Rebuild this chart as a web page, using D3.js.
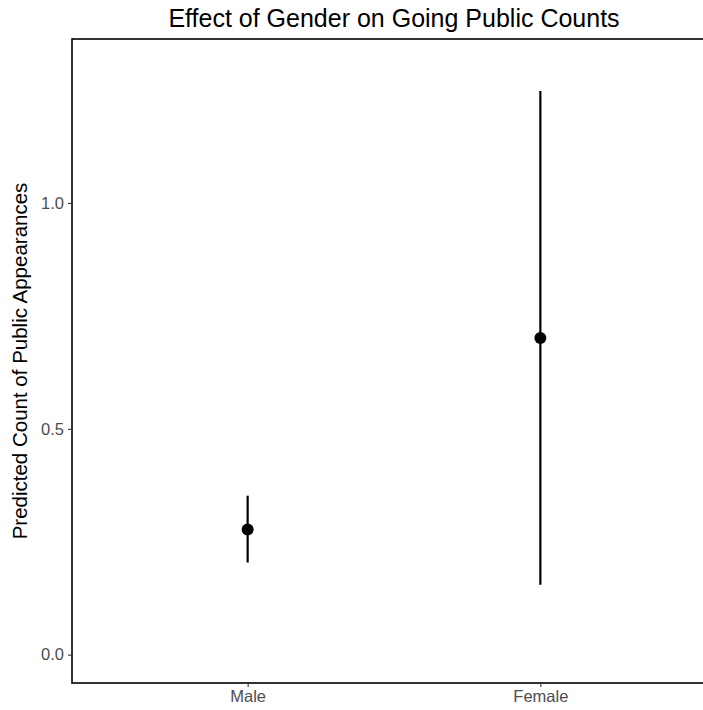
<!DOCTYPE html>
<html>
<head>
<meta charset="utf-8">
<script src="https://cdn.jsdelivr.net/npm/d3@7"></script>
<style>
  body { margin: 0; background: #fff; }
  svg { display: block; font-family: "Liberation Sans", Arial, sans-serif; }
</style>
</head>
<body>
<div id="chart"></div>
<script>
// Data
const genders = ["Male", "Female"];
const predicted = [0.277, 0.701];
const lower = [0.204, 0.155];
const upper = [0.352, 1.248];
const yTicks = [0.0, 0.5, 1.0];

const TITLE = "Effect of Gender on Going Public Counts";
const Y_LABEL = "Predicted Count of Public Appearances";

const width = 703;
const height = 710;
const panel = { left: 72, right: 716, top: 39, bottom: 683 };

const svg = d3.select("#chart")
    .append("svg")
    .attr("width", width)
    .attr("height", height);

const x = d3.scalePoint()
    .domain(genders)
    .range([panel.left, panel.right])
    .padding(0.6);

const y = d3.scaleLinear()
    .domain([-0.0627, 1.363])
    .range([panel.bottom, panel.top]);

// Panel border (right edge falls outside the picture)
svg.append("rect")
    .attr("x", panel.left)
    .attr("y", panel.top)
    .attr("width", panel.right - panel.left)
    .attr("height", panel.bottom - panel.top)
    .attr("fill", "none")
    .attr("stroke", "#000")
    .attr("stroke-width", 1.6);

// Axes
const yAxis = svg.append("g")
    .attr("transform", `translate(${panel.left},0)`)
    .call(d3.axisLeft(y).tickValues(yTicks).tickFormat(d3.format(".1f")).tickSize(4).tickPadding(4));

const xAxis = svg.append("g")
    .attr("transform", `translate(0,${panel.bottom})`)
    .call(d3.axisBottom(x).tickSize(4).tickPadding(3));

[xAxis, yAxis].forEach(g => {
    g.select(".domain").remove();
    g.selectAll(".tick line").attr("stroke", "#333").attr("stroke-width", 1.1);
    g.selectAll(".tick text")
        .attr("fill", "#4d4d4d")
        .style("font-size", "16.5px")
        .style("font-family", "Liberation Sans, Arial, sans-serif");
});

// Error bars
const rows = genders.map((g, i) => ({ g, v: predicted[i], lo: lower[i], hi: upper[i] }));

svg.selectAll(".errbar")
    .data(rows)
    .enter()
    .append("line")
    .attr("class", "errbar")
    .attr("x1", d => x(d.g))
    .attr("x2", d => x(d.g))
    .attr("y1", d => y(d.lo))
    .attr("y2", d => y(d.hi))
    .attr("stroke", "#000")
    .attr("stroke-width", 2.2);

svg.selectAll(".pt")
    .data(rows)
    .enter()
    .append("circle")
    .attr("class", "pt")
    .attr("cx", d => x(d.g))
    .attr("cy", d => y(d.v))
    .attr("r", 6)
    .attr("fill", "#000");

// Title
svg.append("text")
    .attr("x", (panel.left + panel.right) / 2)
    .attr("y", 27)
    .attr("text-anchor", "middle")
    .style("font-size", "25px")
    .attr("fill", "#000")
    .text(TITLE);

// Y label
svg.append("text")
    .attr("transform", `translate(27,${(panel.top + panel.bottom) / 2}) rotate(-90)`)
    .attr("text-anchor", "middle")
    .style("font-size", "20.5px")
    .attr("fill", "#000")
    .text(Y_LABEL);
</script>
</body>
</html>
